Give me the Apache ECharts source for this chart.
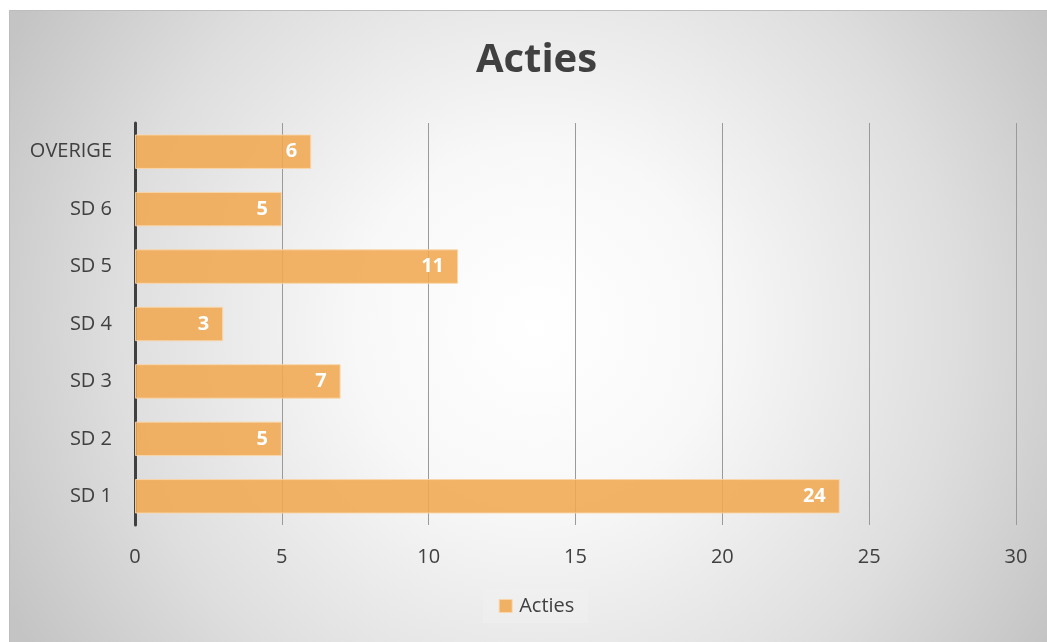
<!DOCTYPE html>
<html>
<head>
<meta charset="utf-8">
<script src="https://cdn.jsdelivr.net/npm/echarts@6/dist/echarts.min.js"></script>
<style>
html, body { margin: 0; padding: 0; background: #fff; overflow: hidden; }
#chart { position: absolute; left: 9px; top: 10px; width: 1054px; height: 632px;
  border-left: 1px solid #bdbdbd; border-top: 1px solid #bdbdbd; box-sizing: border-box; }
</style>
</head>
<body>
<div id="chart"></div>
<script>
// data
var categories = ['SD 1', 'SD 2', 'SD 3', 'SD 4', 'SD 5', 'SD 6', 'OVERIGE'];
var acties = [24, 5, 7, 3, 11, 5, 6];
var seriesName = 'Acties';

var chart = echarts.init(document.getElementById('chart'));
chart.setOption({
  backgroundColor: {
    type: 'radial', x: 0.5, y: 0.5, r: 0.95,
    colorStops: [
      { offset: 0, color: '#ffffff' },
      { offset: 0.3, color: '#f8f8f8' },
      { offset: 0.7, color: '#dedede' },
      { offset: 1, color: '#c4c4c4' }
    ]
  },
  textStyle: { fontFamily: 'Open Sans' },
  title: {
    text: 'Acties',
    left: 'center',
    top: 25,
    textStyle: { fontSize: 40, fontWeight: 'bold', color: '#404040', fontFamily: 'Open Sans' }
  },
  legend: {
    bottom: 19,
    left: 'center',
    data: [seriesName],
    icon: 'rect',
    itemWidth: 13,
    itemHeight: 13,
    itemGap: 6,
    padding: [7, 14, 7, 16],
    backgroundColor: 'rgba(240,240,240,0.55)',
    itemStyle: { borderColor: 'rgba(250,214,170,0.9)', borderWidth: 1 },
    textStyle: { fontSize: 20, color: '#404040', padding: [0, 0, 0, 2] }
  },
  grid: { left: 125, right: 47, top: 112, bottom: 117 },
  xAxis: {
    type: 'value',
    min: 0, max: 30, interval: 5,
    axisLine: { show: false },
    axisTick: { show: false },
    axisLabel: { fontSize: 20, color: '#404040', margin: 22 },
    splitLine: { lineStyle: { color: '#9a9a9a', width: 1 } }
  },
  yAxis: {
    type: 'category',
    data: categories,
    axisLine: { show: true, lineStyle: { color: '#404040', width: 3 } },
    axisTick: { show: false },
    axisLabel: { fontSize: 20, color: '#404040', margin: 23 }
  },
  series: [{
    name: seriesName,
    type: 'bar',
    data: acties,
    barCategoryGap: '40%',
    itemStyle: { color: 'rgba(240,168,82,0.88)', borderColor: 'rgba(250,214,170,0.9)', borderWidth: 1 },
    label: {
      show: true,
      position: 'insideRight',
      distance: 14,
      color: '#fff',
      fontSize: 20,
      fontWeight: 'bold'
    }
  }]
});
</script>
</body>
</html>
